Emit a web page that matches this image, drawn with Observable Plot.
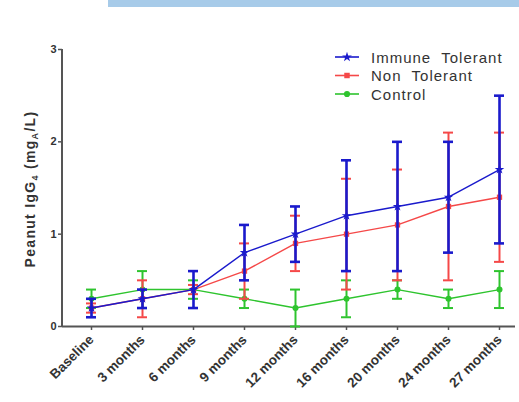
<!DOCTYPE html>
<html><head><meta charset="utf-8">
<script src="https://cdn.jsdelivr.net/npm/d3@7"></script>
<script src="https://cdn.jsdelivr.net/npm/@observablehq/plot@0.6"></script>
<style>
body{margin:0;background:#fff;font-family:"Liberation Sans",Arial,sans-serif;}
#wrap{position:relative;width:519px;height:402px;overflow:hidden;}
#band{position:absolute;left:108px;top:0;width:411px;height:7px;background:#a7cbe9;}
</style></head>
<body><div id="wrap"><div id="band"></div></div>
<script>
const timepoints = ["Baseline","3 months","6 months","9 months","12 months","16 months","20 months","24 months","27 months"];
const seriesNames = ["Immune  Tolerant","Non  Tolerant","Control"];
const seriesColors = ["#1a1acc","#f54848","#2ec42e"];
const seriesSymbols = ["star","square","circle"];

const immuneMean = [0.2,0.3,0.4,0.8,1.0,1.2,1.3,1.4,1.7];
const immuneLow  = [0.1,0.2,0.2,0.5,0.7,0.6,0.6,0.8,0.9];
const immuneHigh = [0.3,0.4,0.6,1.1,1.3,1.8,2.0,2.0,2.5];

const nonMean = [0.2,0.3,0.4,0.6,0.9,1.0,1.1,1.3,1.4];
const nonLow  = [0.15,0.1,0.35,0.3,0.6,0.4,0.5,0.5,0.7];
const nonHigh = [0.25,0.5,0.45,0.9,1.2,1.6,1.7,2.1,2.1];

const ctrlMean = [0.3,0.4,0.4,0.3,0.2,0.3,0.4,0.3,0.4];
const ctrlLow  = [0.2,0.2,0.3,0.2,0.0,0.1,0.3,0.2,0.2];
const ctrlHigh = [0.4,0.6,0.5,0.4,0.4,0.5,0.5,0.4,0.6];

const yTicks = [0,1,2,3];

const groups = [
  {name: seriesNames[0], mean: immuneMean, low: immuneLow, high: immuneHigh, color: seriesColors[0], symbol: seriesSymbols[0], bw: 2.6},
  {name: seriesNames[1], mean: nonMean, low: nonLow, high: nonHigh, color: seriesColors[1], symbol: seriesSymbols[1], bw: 2},
  {name: seriesNames[2], mean: ctrlMean, low: ctrlLow, high: ctrlHigh, color: seriesColors[2], symbol: seriesSymbols[2], bw: 2}
];

function rows(g){ return timepoints.map((t,i)=>({t, m:g.mean[i], lo:g.low[i], hi:g.high[i]})); }

const marks = [];
for (const g of [groups[2], groups[1], groups[0]]) {
  const d = rows(g);
  marks.push(Plot.line(d, {x:"t", y:"m", stroke:g.color, strokeWidth:1.4}));
  marks.push(Plot.ruleX(d, {x:"t", y1:"lo", y2:"hi", stroke:g.color, strokeWidth:g.bw}));
  marks.push(Plot.ruleY(d, {x1:"t", x2:"t", y:"lo", insetLeft:-5, insetRight:-5, stroke:g.color, strokeWidth:g.bw}));
  marks.push(Plot.ruleY(d, {x1:"t", x2:"t", y:"hi", insetLeft:-5, insetRight:-5, stroke:g.color, strokeWidth:g.bw}));
  marks.push(Plot.dot(d, {x:"t", y:"m", fill:g.color, symbol:()=>g.symbol, r:3}));
}

const plot = Plot.plot({
  width: 519, height: 402,
  marginLeft: 62, marginRight: 4, marginTop: 49, marginBottom: 76,
  style: {fontFamily:'"Liberation Sans", Arial, sans-serif', background:"transparent", overflow:"visible"},
  x: {type:"point", domain: timepoints, range:[89,501], padding:0},
  y: {domain:[0,3], range:[326,49]},
  symbol: {type:"ordinal"},
  marks: [
    Plot.axisY({ticks: yTicks, tickFormat: d=>String(d), tickSize:4, tickPadding:2, fontSize:11, fontWeight:"bold", color:"#333", stroke:"#555", strokeWidth:1.5, label:null}),
    Plot.axisX({tickSize:4, tickRotate:-45, tickPadding:7, fontSize:13.5, fontWeight:"bold", color:"#333", stroke:"#555", strokeWidth:1.5, label:null, style:{letterSpacing:"0.7px"}}),
    Plot.ruleY([0], {stroke:"#555", strokeWidth:2}),
    ...marks
  ]
});
const svg = d3.select(plot);
svg.style("position","absolute").style("left","0").style("top","0");
const ys = plot.scale("y");
svg.append("line").attr("x1",62).attr("x2",62)
  .attr("y1", ys.apply(0)+1).attr("y2", ys.apply(3))
  .attr("stroke","#555").attr("stroke-width",2);

const lab = svg.append("text")
  .attr("transform","translate(35,189) rotate(-90)")
  .attr("text-anchor","middle").attr("font-size",14).attr("font-weight","bold")
  .attr("letter-spacing","1.3px").attr("fill","#333")
  .attr("font-family",'"Liberation Sans", Arial, sans-serif');
lab.append("tspan").text("Peanut IgG");
lab.append("tspan").attr("font-size",9).attr("dy",3).text("4");
lab.append("tspan").attr("dy",-3).text(" (mg");
lab.append("tspan").attr("font-size",9).attr("dy",3).text("A");
lab.append("tspan").attr("dy",-3).text("/L)");

const leg = svg.append("g").attr("font-family",'"Liberation Sans", Arial, sans-serif');
groups.forEach((g,i)=>{
  const y = 57 + i*18.5;
  leg.append("line").attr("x1",335).attr("x2",359).attr("y1",y).attr("y2",y).attr("stroke",g.color).attr("stroke-width",1.6);
  leg.append("path").attr("d", d3.symbol(g.symbol==="star"?d3.symbolStar:g.symbol==="square"?d3.symbolSquare:d3.symbolCircle, 30)())
    .attr("transform",`translate(347,${y})`).attr("fill",g.color);
  leg.append("text").attr("x",371).attr("y",y+5.5).attr("text-anchor","start")
    .attr("font-size",15).attr("letter-spacing","1px").attr("fill","#333")
    .attr("xml:space","preserve").style("white-space","pre").text(g.name);
});

document.getElementById("wrap").appendChild(plot);
</script>
</body></html>
